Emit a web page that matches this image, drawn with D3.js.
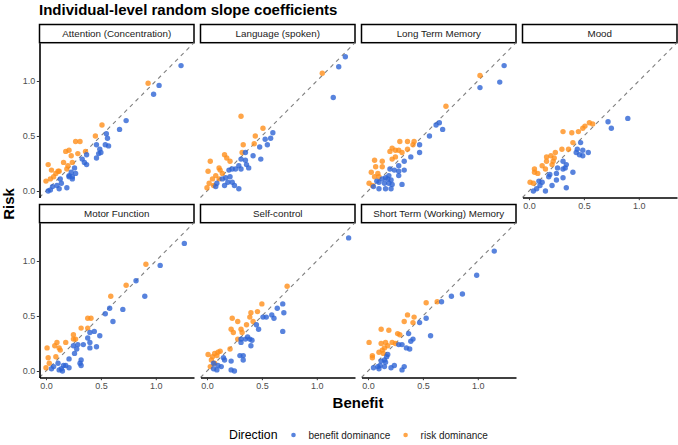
<!DOCTYPE html>
<html>
<head>
<meta charset="utf-8">
<script src="https://cdn.jsdelivr.net/npm/d3@7"></script>
<style>
body { margin: 0; background: #fff; }
text { font-family: "Liberation Sans", Arial, sans-serif; }
</style>
</head>
<body>
<svg id="chart" width="678" height="445"></svg>
<script>
var facetNames = ["Attention (Concentration)", "Language (spoken)", "Long Term Memory", "Mood",
	"Motor Function", "Self-control", "Short Term (Working) Memory"]
var tickValues = [0, 0.5, 1.0]
var directionKeys = ["b", "r"]
var directionLabels = ["benefit dominance", "risk dominance"]
var directionColours = ["#2e64d4", "#ff8f1a"]

// [benefit, risk, direction]  b = benefit dominance, r = risk dominance
var attention = [
	[0.93,0.98,"r"],[0.51,0.60,"r"],[0.45,0.50,"r"],[0.27,0.45,"r"],[0.31,0.45,"r"],[0.18,0.36,"r"],
	[0.21,0.37,"r"],[0.23,0.32,"r"],[0.29,0.34,"r"],[0.36,0.36,"r"],[0.16,0.26,"r"],[0.24,0.26,"r"],
	[0.02,0.24,"r"],[0.05,0.19,"r"],[0.11,0.18,"r"],[0.12,0.18,"r"],[0.07,0.13,"r"],[0.04,0.11,"r"],
	[0.00,0.09,"r"],[0.20,0.23,"r"],[0.09,0.16,"r"],[0.19,0.20,"r"],
	[1.23,1.14,"b"],[1.03,0.96,"b"],[0.98,0.88,"b"],[0.73,0.64,"b"],[0.67,0.56,"b"],[0.55,0.52,"b"],
	[0.56,0.48,"b"],[0.57,0.41,"b"],[0.54,0.42,"b"],[0.46,0.42,"b"],[0.49,0.38,"b"],[0.50,0.35,"b"],
	[0.48,0.34,"b"],[0.46,0.30,"b"],[0.37,0.33,"b"],[0.35,0.26,"b"],[0.37,0.24,"b"],[0.33,0.29,"b"],
	[0.26,0.21,"b"],[0.23,0.17,"b"],[0.27,0.16,"b"],[0.21,0.13,"b"],[0.24,0.11,"b"],[0.21,0.14,"b"],
	[0.24,0.13,"b"],[0.13,0.11,"b"],[0.14,0.07,"b"],[0.10,0.05,"b"],[0.06,0.04,"b"],[0.04,0.01,"b"],
	[0.02,0.00,"b"],[0.19,0.03,"b"],[0.12,0.02,"b"]
]
var language = [
	[1.05,1.07,"r"],[0.31,0.68,"r"],[0.51,0.57,"r"],[0.44,0.50,"r"],[0.43,0.43,"r"],[0.33,0.42,"r"],
	[0.32,0.35,"r"],[0.16,0.33,"r"],[0.18,0.30,"r"],[0.21,0.27,"r"],[0.03,0.27,"r"],[0.11,0.21,"r"],
	[0.12,0.19,"r"],[0.01,0.18,"r"],[0.08,0.14,"r"],[0.05,0.11,"r"],[0.11,0.11,"r"],[0.02,0.07,"r"],
	[0.00,0.03,"r"],[0.06,0.05,"r"],[0.14,0.16,"r"],
	[1.26,1.22,"b"],[1.20,1.13,"b"],[1.15,0.85,"b"],[0.60,0.53,"b"],[0.58,0.48,"b"],[0.53,0.47,"b"],
	[0.55,0.42,"b"],[0.48,0.40,"b"],[0.42,0.32,"b"],[0.49,0.29,"b"],[0.35,0.35,"b"],[0.31,0.29,"b"],
	[0.35,0.28,"b"],[0.36,0.24,"b"],[0.38,0.21,"b"],[0.29,0.23,"b"],[0.26,0.20,"b"],[0.23,0.20,"b"],
	[0.20,0.19,"b"],[0.31,0.20,"b"],[0.21,0.13,"b"],[0.17,0.12,"b"],[0.14,0.11,"b"],[0.19,0.08,"b"],
	[0.23,0.08,"b"],[0.25,0.05,"b"],[0.29,0.02,"b"],[0.16,0.05,"b"],[0.08,0.04,"b"],[0.09,0.07,"b"]
]
var longTerm = [
	[1.02,1.05,"r"],[0.71,0.77,"r"],[0.29,0.45,"r"],[0.36,0.45,"r"],[0.42,0.45,"r"],[0.41,0.42,"r"],
	[0.22,0.39,"r"],[0.25,0.37,"r"],[0.28,0.37,"r"],[0.31,0.35,"r"],[0.20,0.36,"r"],[0.36,0.38,"r"],
	[0.22,0.29,"r"],[0.25,0.31,"r"],[0.06,0.28,"r"],[0.13,0.27,"r"],[0.07,0.22,"r"],[0.13,0.22,"r"],
	[0.03,0.17,"r"],[0.09,0.16,"r"],[0.06,0.13,"r"],[0.01,0.07,"r"],[0.04,0.05,"r"],[0.10,0.13,"r"],
	[1.24,1.14,"b"],[1.20,0.99,"b"],[1.02,0.94,"b"],[0.65,0.62,"b"],[0.62,0.60,"b"],[0.68,0.56,"b"],
	[0.56,0.50,"b"],[0.47,0.42,"b"],[0.47,0.35,"b"],[0.39,0.31,"b"],[0.33,0.27,"b"],[0.28,0.23,"b"],
	[0.33,0.19,"b"],[0.28,0.18,"b"],[0.24,0.19,"b"],[0.28,0.14,"b"],[0.20,0.20,"b"],[0.19,0.14,"b"],
	[0.16,0.12,"b"],[0.13,0.11,"b"],[0.21,0.10,"b"],[0.19,0.07,"b"],[0.15,0.07,"b"],[0.10,0.08,"b"],
	[0.08,0.09,"b"],[0.22,0.06,"b"],[0.31,0.06,"b"],[0.21,0.02,"b"],[0.16,0.02,"b"],[0.10,0.02,"b"],
	[0.05,0.04,"b"],[0.18,0.11,"b"]
]
var mood = [
	[0.55,0.62,"r"],[0.58,0.61,"r"],[0.51,0.59,"r"],[0.49,0.57,"r"],[0.45,0.54,"r"],[0.39,0.53,"r"],
	[0.31,0.54,"r"],[0.40,0.44,"r"],[0.36,0.38,"r"],[0.30,0.38,"r"],[0.24,0.35,"r"],[0.16,0.31,"r"],
	[0.20,0.32,"r"],[0.23,0.30,"r"],[0.22,0.27,"r"],[0.16,0.27,"r"],[0.21,0.24,"r"],[0.15,0.20,"r"],
	[0.12,0.23,"r"],[0.05,0.20,"r"],[0.05,0.17,"r"],[0.08,0.16,"r"],[0.01,0.08,"r"],[0.04,0.07,"r"],
	[0.90,0.66,"b"],[0.72,0.63,"b"],[0.75,0.57,"b"],[0.47,0.44,"b"],[0.44,0.38,"b"],[0.49,0.37,"b"],
	[0.54,0.35,"b"],[0.46,0.33,"b"],[0.49,0.32,"b"],[0.43,0.35,"b"],[0.34,0.24,"b"],[0.31,0.27,"b"],
	[0.33,0.21,"b"],[0.31,0.20,"b"],[0.40,0.17,"b"],[0.26,0.21,"b"],[0.25,0.16,"b"],[0.31,0.12,"b"],
	[0.19,0.15,"b"],[0.18,0.13,"b"],[0.25,0.10,"b"],[0.21,0.05,"b"],[0.34,0.03,"b"],[0.12,0.08,"b"],
	[0.09,0.09,"b"],[0.10,0.05,"b"],[0.07,0.02,"b"],[0.15,0.00,"b"],[0.04,0.00,"b"]
]
var motor = [
	[0.91,0.97,"r"],[0.73,0.78,"r"],[0.59,0.68,"r"],[0.38,0.48,"r"],[0.41,0.48,"r"],[0.32,0.39,"r"],
	[0.38,0.39,"r"],[0.25,0.33,"r"],[0.25,0.29,"r"],[0.27,0.29,"r"],[0.18,0.26,"r"],[0.10,0.26,"r"],
	[0.08,0.23,"r"],[0.01,0.21,"r"],[0.13,0.19,"r"],[0.09,0.13,"r"],[0.02,0.12,"r"],[0.00,0.03,"r"],
	[0.03,0.07,"r"],[0.12,0.21,"r"],
	[1.26,1.16,"b"],[1.04,0.96,"b"],[0.82,0.82,"b"],[0.90,0.68,"b"],[0.70,0.56,"b"],[0.58,0.57,"b"],
	[0.54,0.52,"b"],[0.61,0.45,"b"],[0.49,0.32,"b"],[0.44,0.36,"b"],[0.40,0.35,"b"],[0.38,0.30,"b"],
	[0.40,0.26,"b"],[0.40,0.21,"b"],[0.46,0.22,"b"],[0.34,0.24,"b"],[0.29,0.24,"b"],[0.25,0.23,"b"],
	[0.28,0.20,"b"],[0.26,0.16,"b"],[0.21,0.11,"b"],[0.32,0.10,"b"],[0.31,0.07,"b"],[0.32,0.05,"b"],
	[0.18,0.05,"b"],[0.16,0.05,"b"],[0.21,0.03,"b"],[0.14,0.02,"b"],[0.11,0.07,"b"],[0.07,0.04,"b"],
	[0.05,0.02,"b"],[0.12,0.01,"b"],[0.15,0.00,"b"]
]
var selfControl = [
	[0.73,0.77,"r"],[0.50,0.61,"r"],[0.46,0.54,"r"],[0.40,0.53,"r"],[0.39,0.49,"r"],[0.23,0.48,"r"],
	[0.28,0.45,"r"],[0.42,0.45,"r"],[0.36,0.42,"r"],[0.22,0.38,"r"],[0.24,0.35,"r"],[0.31,0.38,"r"],
	[0.32,0.35,"r"],[0.28,0.29,"r"],[0.21,0.20,"r"],[0.12,0.18,"r"],[0.10,0.17,"r"],[0.07,0.16,"r"],
	[0.01,0.15,"r"],[0.05,0.13,"r"],[0.09,0.14,"r"],[0.04,0.10,"r"],[0.07,0.07,"r"],[0.03,0.04,"r"],
	[1.29,1.21,"b"],[0.69,0.61,"b"],[0.64,0.57,"b"],[0.70,0.53,"b"],[0.59,0.51,"b"],[0.51,0.49,"b"],
	[0.54,0.49,"b"],[0.61,0.48,"b"],[0.69,0.36,"b"],[0.45,0.42,"b"],[0.47,0.38,"b"],[0.37,0.31,"b"],
	[0.35,0.29,"b"],[0.39,0.29,"b"],[0.41,0.28,"b"],[0.31,0.29,"b"],[0.31,0.26,"b"],[0.40,0.23,"b"],
	[0.30,0.14,"b"],[0.33,0.14,"b"],[0.33,0.10,"b"],[0.15,0.12,"b"],[0.16,0.10,"b"],[0.13,0.04,"b"],
	[0.10,0.05,"b"],[0.06,0.07,"b"],[0.06,0.02,"b"],[0.09,0.01,"b"],[0.22,0.09,"b"],[0.22,0.01,"b"],
	[0.25,0.00,"b"]
]
var shortTerm = [
	[0.63,0.63,"r"],[0.53,0.62,"r"],[0.36,0.51,"r"],[0.42,0.49,"r"],[0.41,0.44,"r"],[0.33,0.45,"r"],
	[0.12,0.38,"r"],[0.19,0.37,"r"],[0.27,0.34,"r"],[0.29,0.33,"r"],[0.01,0.26,"r"],[0.12,0.25,"r"],
	[0.16,0.26,"r"],[0.22,0.26,"r"],[0.25,0.25,"r"],[0.18,0.23,"r"],[0.15,0.21,"r"],[0.13,0.19,"r"],
	[0.10,0.17,"r"],[0.04,0.14,"r"],[0.04,0.12,"r"],[0.14,0.16,"r"],
	[1.15,1.09,"b"],[0.99,0.87,"b"],[0.86,0.70,"b"],[0.76,0.68,"b"],[0.67,0.63,"b"],[0.53,0.48,"b"],
	[0.47,0.44,"b"],[0.57,0.32,"b"],[0.37,0.34,"b"],[0.41,0.29,"b"],[0.39,0.27,"b"],[0.31,0.24,"b"],
	[0.28,0.24,"b"],[0.35,0.21,"b"],[0.38,0.20,"b"],[0.18,0.15,"b"],[0.17,0.13,"b"],[0.15,0.10,"b"],
	[0.12,0.09,"b"],[0.16,0.08,"b"],[0.11,0.05,"b"],[0.15,0.04,"b"],[0.21,0.03,"b"],[0.24,0.05,"b"],
	[0.33,0.04,"b"],[0.31,0.01,"b"],[0.09,0.04,"b"],[0.05,0.03,"b"],[0.10,0.02,"b"]
]
var facetData = [attention, language, longTerm, mood, motor, selfControl, shortTerm]

var svg = d3.select('#chart')

var left0 = 39.5, colStep = 161, pw = 154.5,
	top0 = 24.5, rowStep = 180, stripH = 18.2, ph = 154.8,
	lim = [-0.059, 1.348]

var x = d3.scaleLinear().domain(lim).range([0, pw]),
	y = d3.scaleLinear().domain(lim).range([ph, 0]),
	colour = d3.scaleOrdinal().domain(directionKeys).range(directionColours)

var fmt = d3.format('.1f')

function styleAxis(sel) {
	sel.select('.domain').attr('stroke', '#000').attr('stroke-width', 1.6)
	sel.selectAll('.tick line').attr('stroke', '#333').attr('stroke-width', 1)
	sel.selectAll('.tick text').attr('fill', '#4d4d4d').attr('font-size', 9)
		.attr('font-family', '"Liberation Sans", Arial, sans-serif')
}

facetNames.forEach(function(name, i) {
	var col = i % 4,
		row = Math.floor(i / 4)
	var g = svg.append('g')
		.attr('transform', 'translate(' + (left0 + col * colStep) + ',' + (top0 + row * rowStep) + ')')

	// strip
	g.append('rect')
		.attr('width', pw).attr('height', stripH)
		.attr('fill', '#fff').attr('stroke', '#000').attr('stroke-width', 1.5)
	g.append('text')
		.attr('x', pw / 2).attr('y', stripH / 2).attr('dy', '0.35em')
		.attr('text-anchor', 'middle').attr('font-size', 9.8).attr('fill', '#1a1a1a')
		.text(name)

	var p = g.append('g').attr('transform', 'translate(0,' + stripH + ')')

	p.append('line')
		.attr('x1', x(lim[0])).attr('y1', y(lim[0]))
		.attr('x2', x(lim[1])).attr('y2', y(lim[1]))
		.attr('stroke', '#808080').attr('stroke-width', 1.1).attr('stroke-dasharray', '4,4')

	p.selectAll('.pt')
		.data(facetData[i])
		.enter()
		.append('circle')
		.attr('class', 'pt')
		.attr('cx', function(d) { return x(d[0]) })
		.attr('cy', function(d) { return y(d[1]) })
		.attr('r', 2.7)
		.attr('fill', function(d) { return colour(d[2]) })
		.attr('fill-opacity', 0.8)

	if (col == 0) {
		p.append('g')
			.call(d3.axisLeft(y).tickValues(tickValues).tickFormat(fmt).tickSize(2.7).tickSizeOuter(0).tickPadding(1.5))
			.call(styleAxis)
	}
	if (row == 1 || i == 3) {
		p.append('g')
			.attr('transform', 'translate(0,' + ph + ')')
			.call(d3.axisBottom(x).tickValues(tickValues).tickFormat(fmt).tickSize(2.7).tickSizeOuter(0).tickPadding(2))
			.call(styleAxis)
	}
})

// titles
svg.append('text')
	.attr('x', 39).attr('y', 15)
	.attr('font-family', '"DejaVu Sans", sans-serif').attr('font-weight', 'bold').attr('font-size', 15)
	.text('Individual-level random slope coefficients')

svg.append('text')
	.attr('x', 358).attr('y', 408)
	.attr('text-anchor', 'middle').attr('font-weight', 'bold').attr('font-size', 15)
	.text('Benefit')

svg.append('text')
	.attr('transform', 'translate(14,204) rotate(-90)')
	.attr('text-anchor', 'middle').attr('font-weight', 'bold').attr('font-size', 15)
	.text('Risk')

// legend
var legY = 435
var leg = svg.append('g')
leg.append('text')
	.attr('x', 229).attr('y', legY).attr('dy', '0.35em')
	.attr('font-size', 12.3).attr('fill', '#000')
	.text('Direction')

var keyX = [293.5, 405.6]
leg.selectAll('.key')
	.data(directionKeys)
	.enter()
	.append('circle')
	.attr('class', 'key')
	.attr('cx', function(d, j) { return keyX[j] })
	.attr('cy', legY)
	.attr('r', 2.3)
	.attr('fill', function(d) { return colour(d) })
	.attr('fill-opacity', 0.8)
leg.selectAll('.lab')
	.data(directionLabels)
	.enter()
	.append('text')
	.attr('class', 'lab')
	.attr('x', function(d, j) { return keyX[j] + 15 })
	.attr('y', legY).attr('dy', '0.35em')
	.attr('font-size', 10).attr('fill', '#1a1a1a')
	.text(function(d) { return d })
</script>
</body>
</html>
